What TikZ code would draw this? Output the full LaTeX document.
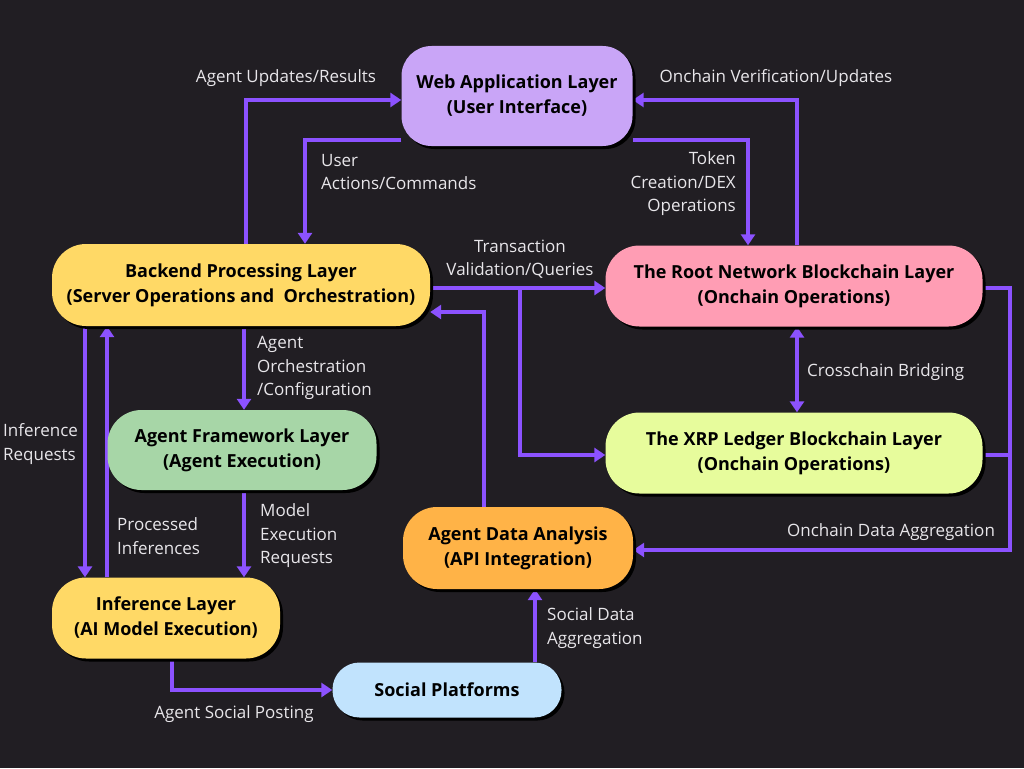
\documentclass[tikz,border=0pt]{standalone}
\usepackage{fontspec}
\setmainfont{Open Sans}
\usetikzlibrary{arrows.meta, shadows}

\definecolor{bgdark}{HTML}{211E23}
\definecolor{flowpurple}{HTML}{8C52FF}
\definecolor{lbltext}{HTML}{E8E6EA}
\definecolor{webfill}{HTML}{C9A5F7}
\definecolor{backfill}{HTML}{FFD966}
\definecolor{rootfill}{HTML}{FF9DB4}
\definecolor{xrpfill}{HTML}{E7FC9C}
\definecolor{agentfill}{HTML}{A7D6A7}
\definecolor{datafill}{HTML}{FFB347}
\definecolor{socialfill}{HTML}{C1E3FD}

\pgfdeclarelayer{back}
\pgfsetlayers{back,main}

\begin{document}
\begin{tikzpicture}[x=1pt, y=-1pt, >={Triangle[width=14pt,length=11pt]}]
\tikzstyle{layer} = [rectangle, rounded corners=30pt, inner sep=0pt, text=black, align=center, font={\fontsize{18}{25}\selectfont\bfseries}, drop shadow={shadow xshift=3pt, shadow yshift=-3pt, opacity=1, fill=black}]
\tikzstyle{flow} = [draw=flowpurple, line width=4pt, ->]
\tikzstyle{lbl} = [text=lbltext, inner sep=0pt, font={\fontsize{17}{23.5}\selectfont}]

\useasboundingbox (0,0) rectangle (1024,768);

%draw layers
\node (web)[layer, fill=webfill, minimum width=231pt, minimum height=100pt] at (517,96) {Web Application Layer\\(User Interface)};
\node (backend)[layer, fill=backfill, rounded corners=34pt, minimum width=378pt, minimum height=82pt] at (241,285) {Backend Processing Layer\\(Server Operations and~ Orchestration)};
\node (root)[layer, fill=rootfill, rounded corners=34pt, minimum width=377pt, minimum height=81pt] at (794,286) {The Root Network Blockchain Layer\\(Onchain Operations)};
\node (xrp)[layer, fill=xrpfill, rounded corners=34pt, minimum width=377pt, minimum height=81pt] at (794,453) {The XRP Ledger Blockchain Layer\\(Onchain Operations)};
\node (agent)[layer, fill=agentfill, rounded corners=34pt, minimum width=269pt, minimum height=80pt] at (242,450) {Agent Framework Layer\\(Agent Execution)};
\node (data)[layer, fill=datafill, rounded corners=34pt, minimum width=230pt, minimum height=82pt] at (518,548) {Agent Data Analysis\\(API Integration)};
\node (infer)[layer, fill=backfill, rounded corners=34pt, minimum width=228pt, minimum height=81pt] at (166,618) {Inference Layer\\(AI Model Execution)};
\node (social)[layer, fill=socialfill, rounded corners=27pt, minimum width=229pt, minimum height=55pt] at (447,690) {Social Platforms};

\coordinate (split) at (520,288);
\coordinate (rail) at (1010,550);

%connectors behind the layers
\begin{pgfonlayer}{back}
\fill[bgdark] (0,0) rectangle (1024,768);
%%web application
\draw [flow] ([xshift=5pt]backend.north) |- ([yshift=-4pt]web.west);
\draw [flow] ([yshift=-44pt]web.west) -| ([xshift=64pt]backend.north);
\draw [flow] ([xshift=3pt]root.north) |- ([yshift=-4pt]web.east);
\draw [flow] ([yshift=-44pt]web.east) -| ([xshift=-46pt]root.north);
%%chains
\draw [flow] ([yshift=-3pt]backend.east) -- ([yshift=-2pt]root.west);
\draw [flow] (split) |- ([yshift=-2pt]xrp.west);
\draw [flow, <->] ([xshift=3pt]root.south) -- ([xshift=3pt]xrp.north);
\draw [flow] ([yshift=-2pt]root.east) -| (rail) -- ([yshift=-2pt]data.east);
\draw [draw=flowpurple, line width=4pt] ([yshift=-2pt]xrp.east) -| (rail);
\draw [flow] ([xshift=-34pt]data.north) |- ([yshift=-27pt]backend.east);
%%agents and inference
\draw [flow] ([xshift=3pt]backend.south) -- ([xshift=2pt]agent.north);
\draw [flow] ([xshift=2pt]agent.south) -- ([xshift=78pt]infer.north);
\draw [flow] ([xshift=-156pt]backend.south) -- ([xshift=-81pt]infer.north);
\draw [flow] ([xshift=-59pt]infer.north) -- ([xshift=-134pt]backend.south);
%%social
\draw [flow] ([xshift=6pt]infer.south) |- (social.west);
\draw [flow] ([xshift=88pt]social.north) -- ([xshift=17pt]data.south);
\end{pgfonlayer}

%labels
\node (l1)[lbl] at (286,78) {Agent Updates/Results};
\node (l2)[lbl, anchor=west, align=left] at (321,172) {User\\Actions/Commands};
\node (l3)[lbl] at (776,78) {Onchain Verification/Updates};
\node (l4)[lbl, anchor=east, align=right] at (736,184) {Token\\Creation/DEX\\Operations};
\node (l5)[lbl, align=center] at (520,259) {Transaction\\Validation/Queries};
\node (l6)[lbl, anchor=west] at (807,372) {Crosschain Bridging};
\node (l7)[lbl] at (891,532) {Onchain Data Aggregation};
\node (l8)[lbl, anchor=west, align=left] at (257,368) {Agent\\Orchestration\\/Configuration};
\node (l9)[lbl, anchor=west, align=left] at (3,444) {Inference\\Requests};
\node (l10)[lbl, anchor=west, align=left] at (117,536) {Processed\\Inferences};
\node (l11)[lbl, anchor=west, align=left] at (260,536) {Model\\Execution\\Requests};
\node (l12)[lbl] at (234,714) {Agent Social Posting};
\node (l13)[lbl, anchor=west, align=left] at (547,628) {Social Data\\Aggregation};

\end{tikzpicture}
\end{document}
